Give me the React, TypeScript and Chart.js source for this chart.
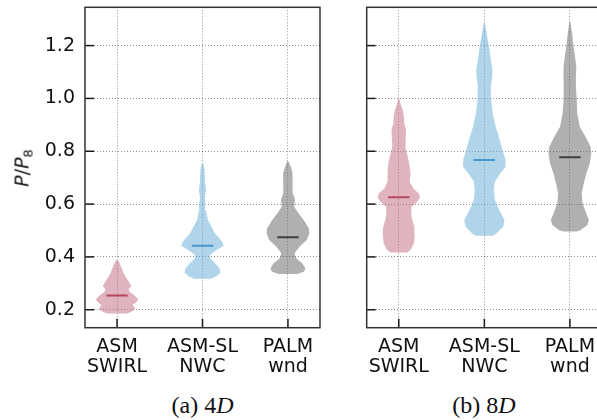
import React, { useEffect, useRef } from "react";
import { Chart, registerables } from "chart.js";

Chart.register(...registerables);

// ---------- data ----------
const categories = [["ASM", "SWIRL"], ["ASM-SL", "NWC"], ["PALM", "wnd"]];
const yTickValues = [0.2, 0.4, 0.6, 0.8, 1.0, 1.2];
const panelCaptions = ["(a) 4", "(b) 8"];

// Panel (a) 4D — violin outlines: value levels and relative density (max = 1)
const a_swirl_levels = [0.186, 0.191, 0.203, 0.218, 0.227, 0.239, 0.256, 0.265, 0.277, 0.29, 0.306, 0.322, 0.338, 0.363, 0.38, 0.388];
const a_swirl_density = [0.46, 0.65, 0.86, 0.73, 0.88, 1.0, 0.8, 0.62, 0.54, 0.67, 0.55, 0.42, 0.31, 0.19, 0.1, 0.03];
const a_nwc_levels = [0.317, 0.325, 0.34, 0.357, 0.376, 0.395, 0.407, 0.426, 0.442, 0.464, 0.489, 0.514, 0.54, 0.578, 0.628, 0.653, 0.679, 0.729, 0.755];
const a_nwc_density = [0.38, 0.61, 0.84, 0.79, 0.59, 0.35, 0.35, 0.66, 1.0, 0.86, 0.59, 0.42, 0.25, 0.16, 0.12, 0.17, 0.12, 0.1, 0.03];
const a_palm_levels = [0.335, 0.344, 0.357, 0.376, 0.395, 0.414, 0.439, 0.464, 0.489, 0.508, 0.54, 0.565, 0.59, 0.616, 0.641, 0.691, 0.717, 0.745, 0.761];
const a_palm_density = [0.42, 0.75, 0.82, 0.67, 0.38, 0.31, 0.55, 0.88, 1.0, 0.98, 0.74, 0.49, 0.29, 0.33, 0.23, 0.2, 0.23, 0.12, 0.03];
const medians4D = [0.254, 0.442, 0.474];

// Panel (b) 8D
const b_swirl_levels = [0.417, 0.426, 0.452, 0.489, 0.514, 0.54, 0.565, 0.59, 0.609, 0.626, 0.641, 0.66, 0.685, 0.717, 0.742, 0.78, 0.818, 0.843, 0.881, 0.906, 0.931, 0.957, 0.982, 1.001];
const b_swirl_density = [0.38, 0.55, 0.71, 0.75, 0.73, 0.63, 0.58, 0.59, 0.86, 1.0, 0.92, 0.67, 0.51, 0.55, 0.51, 0.42, 0.3, 0.32, 0.34, 0.25, 0.24, 0.18, 0.07, 0.02];
const b_nwc_levels = [0.48, 0.489, 0.514, 0.54, 0.578, 0.616, 0.653, 0.685, 0.717, 0.742, 0.767, 0.805, 0.843, 0.893, 0.944, 0.994, 1.045, 1.071, 1.108, 1.146, 1.184, 1.222, 1.26, 1.287];
const b_nwc_density = [0.4, 0.57, 0.88, 0.94, 0.69, 0.49, 0.45, 0.49, 0.75, 1.0, 0.99, 0.85, 0.72, 0.53, 0.39, 0.32, 0.3, 0.35, 0.38, 0.3, 0.24, 0.16, 0.08, 0.02];
const b_palm_levels = [0.496, 0.502, 0.521, 0.54, 0.565, 0.603, 0.641, 0.679, 0.717, 0.755, 0.792, 0.818, 0.855, 0.893, 0.944, 0.994, 1.045, 1.083, 1.12, 1.158, 1.196, 1.247, 1.291];
const b_palm_density = [0.32, 0.51, 0.82, 0.89, 0.76, 0.59, 0.55, 0.65, 0.77, 0.93, 1.0, 0.96, 0.73, 0.46, 0.34, 0.32, 0.28, 0.28, 0.3, 0.24, 0.17, 0.1, 0.02];
const medians8D = [0.626, 0.767, 0.777];

// ---------- style ----------
const Y_MIN = 0.132;
const Y_MAX = 1.345;
const X_MIN = -0.375;
const X_MAX = 2.375;
const VIOLIN_HALF = 0.25;
const MEDIAN_HALF = 0.125;
const fillColors = ["rgba(193,105,125,0.5)", "rgba(97,169,213,0.5)", "rgba(97,97,97,0.5)"];
const medianColors = ["#a8233b", "#2b85c9", "#1a1a1a"];
const FONT = "'DejaVu Sans', sans-serif";
const CANVAS_TOP = -10;
const CANVAS_H = 395;

type Profile = { levels: number[]; density: number[] };

const panelA: Profile[] = [
  { levels: a_swirl_levels, density: a_swirl_density },
  { levels: a_nwc_levels, density: a_nwc_density },
  { levels: a_palm_levels, density: a_palm_density },
];
const panelB: Profile[] = [
  { levels: b_swirl_levels, density: b_swirl_density },
  { levels: b_nwc_levels, density: b_nwc_density },
  { levels: b_palm_levels, density: b_palm_density },
];

function buildDatasets(profiles: Profile[], medians: number[]) {
  const ds: any[] = [];
  profiles.forEach((p, i) => {
    const right = p.levels.map((v, k) => ({ x: i + VIOLIN_HALF * p.density[k], y: v }));
    const left = p.levels
      .map((v, k) => ({ x: i - VIOLIN_HALF * p.density[k], y: v }))
      .reverse();
    ds.push({
      data: [...right, ...left],
      showLine: true,
      fill: "shape",
      backgroundColor: fillColors[i],
      borderColor: "rgba(0,0,0,0)",
      borderWidth: 0,
      pointRadius: 0,
      tension: 0,
    });
  });
  medians.forEach((m, i) => {
    ds.push({
      data: [
        { x: i - MEDIAN_HALF, y: m },
        { x: i + MEDIAN_HALF, y: m },
      ],
      showLine: true,
      fill: false,
      borderColor: medianColors[i],
      borderWidth: 2,
      pointRadius: 0,
    });
  });
  return ds;
}

const frameTicksPlugin = {
  id: "frameTicks",
  afterDatasetsDraw(chart: any) {
    const { ctx, chartArea: a, scales } = chart;
    ctx.save();
    ctx.strokeStyle = "#1a1a1a";
    ctx.lineWidth = 1.5;
    for (const t of scales.y.ticks) {
      const y = scales.y.getPixelForValue(t.value);
      ctx.beginPath();
      ctx.moveTo(a.left, y);
      ctx.lineTo(a.left + 9, y);
      ctx.stroke();
    }
    for (const t of scales.x.ticks) {
      const x = scales.x.getPixelForValue(t.value);
      ctx.beginPath();
      ctx.moveTo(x, a.bottom);
      ctx.lineTo(x, a.bottom - 9);
      ctx.stroke();
    }
    ctx.strokeStyle = "#333";
    ctx.lineWidth = 1.5;
    ctx.strokeRect(a.left, a.top, a.right - a.left, a.bottom - a.top);
    ctx.restore();
  },
};

function Panel(props: {
  left: number;
  width: number;
  yAxisWidth: number;
  showYLabels: boolean;
  profiles: Profile[];
  medians: number[];
}) {
  const ref = useRef<HTMLCanvasElement | null>(null);
  useEffect(() => {
    if (!ref.current) return;
    const gridCommon = {
      color: "rgba(0,0,0,0.55)",
      lineWidth: 0.8,
      drawTicks: false,
    };
    const chart = new Chart(ref.current, {
      type: "scatter",
      data: { datasets: buildDatasets(props.profiles, props.medians) },
      plugins: [frameTicksPlugin],
      options: {
        responsive: false,
        animation: false,
        events: [],
        layout: { padding: { top: 7.3 - CANVAS_TOP, right: 10, left: 0, bottom: 0 } },
        plugins: { legend: { display: false }, tooltip: { enabled: false } },
        scales: {
          x: {
            type: "linear",
            min: X_MIN,
            max: X_MAX,
            afterBuildTicks: (s: any) => {
              s.ticks = categories.map((_, i) => ({ value: i }));
            },
            afterFit: (s: any) => {
              s.height = CANVAS_TOP + CANVAS_H - 327.7;
              s.paddingLeft = 0;
              s.paddingRight = 0;
            },
            grid: gridCommon,
            border: { display: false, dash: [1, 2] },
            ticks: {
              padding: 9,
              maxRotation: 0,
              autoSkip: false,
              color: "#111",
              font: { family: FONT, size: 19, lineHeight: 20 / 19 },
              callback: (v: any) => categories[Math.round(Number(v))] ?? "",
            },
          },
          y: {
            type: "linear",
            min: Y_MIN,
            max: Y_MAX,
            afterBuildTicks: (s: any) => {
              s.ticks = yTickValues.map((v) => ({ value: v }));
            },
            afterFit: (s: any) => {
              s.width = props.yAxisWidth;
              s.paddingTop = 0;
              s.paddingBottom = 0;
            },
            grid: gridCommon,
            border: { display: false, dash: [1, 2] },
            ticks: {
              display: props.showYLabels,
              padding: 10,
              color: "#111",
              font: { family: FONT, size: 19 },
              callback: (v: any) => Number(v).toFixed(1),
            },
          },
        },
      } as any,
    });
    return () => chart.destroy();
  }, []);
  return (
    <canvas
      ref={ref}
      width={props.width}
      height={CANVAS_H}
      style={{ position: "absolute", left: props.left, top: CANVAS_TOP, width: props.width, height: CANVAS_H }}
    />
  );
}

export default function App() {
  const captionStyle: React.CSSProperties = {
    position: "absolute",
    top: 394,
    width: 200,
    textAlign: "center",
    fontFamily: "'Liberation Serif', 'Times New Roman', serif",
    fontSize: 24,
    lineHeight: "23px",
    color: "#111",
    whiteSpace: "nowrap",
  };
  return (
    <div
      style={{
        position: "fixed",
        left: 0,
        top: 0,
        width: 597,
        height: 420,
        overflow: "hidden",
        background: "#fff",
      }}
    >
      <Panel left={0} width={330} yAxisWidth={85} showYLabels={true} profiles={panelA} medians={medians4D} />
      <Panel left={340} width={272} yAxisWidth={26.7} showYLabels={false} profiles={panelB} medians={medians8D} />
      <div
        style={{
          position: "absolute",
          left: 22.5,
          top: 168.3,
          transform: "translate(-50%, -50%) rotate(-90deg)",
          fontFamily: FONT,
          fontSize: 19,
          lineHeight: "19px",
          color: "#111",
          whiteSpace: "nowrap",
        }}
      >
        <i>P</i>/<i>P</i>
        <span style={{ fontSize: 13, position: "relative", top: 4 }}>8</span>
      </div>
      <div style={{ ...captionStyle, left: 202.5 - 100 }}>
        {panelCaptions[0]}
        <i>D</i>
      </div>
      <div style={{ ...captionStyle, left: 484 - 100 }}>
        {panelCaptions[1]}
        <i>D</i>
      </div>
    </div>
  );
}
